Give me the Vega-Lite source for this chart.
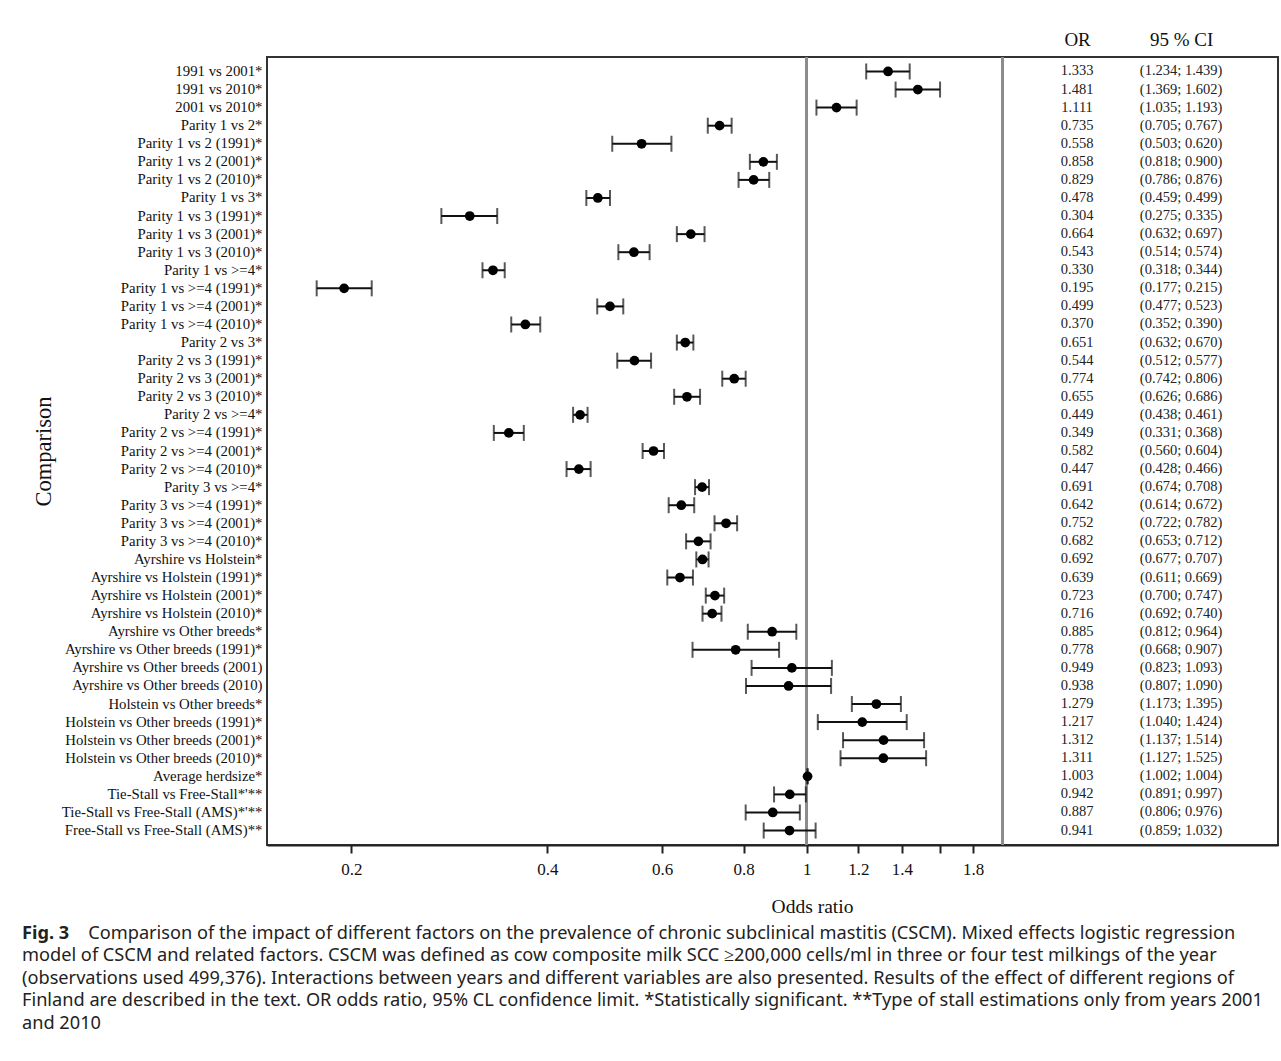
{
  "$schema": "https://vega.github.io/schema/vega-lite/v6.json",
  "width": 1011,
  "height": 788,
  "autosize": {"type": "none"},
  "padding": {"left": 267, "top": 57, "right": 3, "bottom": 216},
  "background": "white",
  "config": {
    "view": {"stroke": "#333333", "strokeWidth": 2},
    "font": "Liberation Serif"
  },
  "title": {
    "text": "Fig. 3",
    "subtitle": [
      "\u200b\u00a0\u00a0\u00a0\u00a0\u00a0\u00a0\u00a0\u00a0\u00a0\u00a0\u00a0\u00a0\u00a0\u00a0Comparison of the impact of different factors on the prevalence of chronic subclinical mastitis (CSCM). Mixed effects logistic regression",
      "model of CSCM and related factors. CSCM was defined as cow composite milk SCC ≥200,000 cells/ml in three or four test milkings of the year",
      "(observations used 499,376). Interactions between years and different variables are also presented. Results of the effect of different regions of",
      "Finland are described in the text. OR odds ratio, 95% CL confidence limit. *Statistically significant. **Type of stall estimations only from years 2001",
      "and 2010"
    ],
    "orient": "bottom",
    "anchor": "start",
    "frame": "bounds",
    "font": "Noto Sans",
    "fontSize": 18.2,
    "fontWeight": "bold",
    "color": "#222222",
    "subtitleFont": "Noto Sans",
    "subtitleFontSize": 18.2,
    "subtitleColor": "#222222",
    "subtitleLineHeight": 22.5,
    "subtitlePadding": -18,
    "offset": 9,
    "dx": -10
  },
  "data": {
    "values": [
      {"comparison": "1991 vs 2001*", "or": 1.333, "lo": 1.234, "hi": 1.439, "ci": "(1.234; 1.439)"},
      {"comparison": "1991 vs 2010*", "or": 1.481, "lo": 1.369, "hi": 1.602, "ci": "(1.369; 1.602)"},
      {"comparison": "2001 vs 2010*", "or": 1.111, "lo": 1.035, "hi": 1.193, "ci": "(1.035; 1.193)"},
      {"comparison": "Parity 1 vs 2*", "or": 0.735, "lo": 0.705, "hi": 0.767, "ci": "(0.705; 0.767)"},
      {"comparison": "Parity 1 vs 2 (1991)*", "or": 0.558, "lo": 0.503, "hi": 0.620, "ci": "(0.503; 0.620)"},
      {"comparison": "Parity 1 vs 2 (2001)*", "or": 0.858, "lo": 0.818, "hi": 0.900, "ci": "(0.818; 0.900)"},
      {"comparison": "Parity 1 vs 2 (2010)*", "or": 0.829, "lo": 0.786, "hi": 0.876, "ci": "(0.786; 0.876)"},
      {"comparison": "Parity 1 vs 3*", "or": 0.478, "lo": 0.459, "hi": 0.499, "ci": "(0.459; 0.499)"},
      {"comparison": "Parity 1 vs 3 (1991)*", "or": 0.304, "lo": 0.275, "hi": 0.335, "ci": "(0.275; 0.335)"},
      {"comparison": "Parity 1 vs 3 (2001)*", "or": 0.664, "lo": 0.632, "hi": 0.697, "ci": "(0.632; 0.697)"},
      {"comparison": "Parity 1 vs 3 (2010)*", "or": 0.543, "lo": 0.514, "hi": 0.574, "ci": "(0.514; 0.574)"},
      {"comparison": "Parity 1 vs >=4*", "or": 0.330, "lo": 0.318, "hi": 0.344, "ci": "(0.318; 0.344)"},
      {"comparison": "Parity 1 vs >=4 (1991)*", "or": 0.195, "lo": 0.177, "hi": 0.215, "ci": "(0.177; 0.215)"},
      {"comparison": "Parity 1 vs >=4 (2001)*", "or": 0.499, "lo": 0.477, "hi": 0.523, "ci": "(0.477; 0.523)"},
      {"comparison": "Parity 1 vs >=4 (2010)*", "or": 0.370, "lo": 0.352, "hi": 0.390, "ci": "(0.352; 0.390)"},
      {"comparison": "Parity 2 vs 3*", "or": 0.651, "lo": 0.632, "hi": 0.670, "ci": "(0.632; 0.670)"},
      {"comparison": "Parity 2 vs 3 (1991)*", "or": 0.544, "lo": 0.512, "hi": 0.577, "ci": "(0.512; 0.577)"},
      {"comparison": "Parity 2 vs 3 (2001)*", "or": 0.774, "lo": 0.742, "hi": 0.806, "ci": "(0.742; 0.806)"},
      {"comparison": "Parity 2 vs 3 (2010)*", "or": 0.655, "lo": 0.626, "hi": 0.686, "ci": "(0.626; 0.686)"},
      {"comparison": "Parity 2 vs >=4*", "or": 0.449, "lo": 0.438, "hi": 0.461, "ci": "(0.438; 0.461)"},
      {"comparison": "Parity 2 vs >=4 (1991)*", "or": 0.349, "lo": 0.331, "hi": 0.368, "ci": "(0.331; 0.368)"},
      {"comparison": "Parity 2 vs >=4 (2001)*", "or": 0.582, "lo": 0.560, "hi": 0.604, "ci": "(0.560; 0.604)"},
      {"comparison": "Parity 2 vs >=4 (2010)*", "or": 0.447, "lo": 0.428, "hi": 0.466, "ci": "(0.428; 0.466)"},
      {"comparison": "Parity 3 vs >=4*", "or": 0.691, "lo": 0.674, "hi": 0.708, "ci": "(0.674; 0.708)"},
      {"comparison": "Parity 3 vs >=4 (1991)*", "or": 0.642, "lo": 0.614, "hi": 0.672, "ci": "(0.614; 0.672)"},
      {"comparison": "Parity 3 vs >=4 (2001)*", "or": 0.752, "lo": 0.722, "hi": 0.782, "ci": "(0.722; 0.782)"},
      {"comparison": "Parity 3 vs >=4 (2010)*", "or": 0.682, "lo": 0.653, "hi": 0.712, "ci": "(0.653; 0.712)"},
      {"comparison": "Ayrshire vs Holstein*", "or": 0.692, "lo": 0.677, "hi": 0.707, "ci": "(0.677; 0.707)"},
      {"comparison": "Ayrshire vs Holstein (1991)*", "or": 0.639, "lo": 0.611, "hi": 0.669, "ci": "(0.611; 0.669)"},
      {"comparison": "Ayrshire vs Holstein (2001)*", "or": 0.723, "lo": 0.700, "hi": 0.747, "ci": "(0.700; 0.747)"},
      {"comparison": "Ayrshire vs Holstein (2010)*", "or": 0.716, "lo": 0.692, "hi": 0.740, "ci": "(0.692; 0.740)"},
      {"comparison": "Ayrshire vs Other breeds*", "or": 0.885, "lo": 0.812, "hi": 0.964, "ci": "(0.812; 0.964)"},
      {"comparison": "Ayrshire vs Other breeds (1991)*", "or": 0.778, "lo": 0.668, "hi": 0.907, "ci": "(0.668; 0.907)"},
      {"comparison": "Ayrshire vs Other breeds (2001)", "or": 0.949, "lo": 0.823, "hi": 1.093, "ci": "(0.823; 1.093)"},
      {"comparison": "Ayrshire vs Other breeds (2010)", "or": 0.938, "lo": 0.807, "hi": 1.090, "ci": "(0.807; 1.090)"},
      {"comparison": "Holstein vs Other breeds*", "or": 1.279, "lo": 1.173, "hi": 1.395, "ci": "(1.173; 1.395)"},
      {"comparison": "Holstein vs Other breeds (1991)*", "or": 1.217, "lo": 1.040, "hi": 1.424, "ci": "(1.040; 1.424)"},
      {"comparison": "Holstein vs Other breeds (2001)*", "or": 1.312, "lo": 1.137, "hi": 1.514, "ci": "(1.137; 1.514)"},
      {"comparison": "Holstein vs Other breeds (2010)*", "or": 1.311, "lo": 1.127, "hi": 1.525, "ci": "(1.127; 1.525)"},
      {"comparison": "Average herdsize*", "or": 1.003, "lo": 1.002, "hi": 1.004, "ci": "(1.002; 1.004)"},
      {"comparison": "Tie-Stall vs Free-Stall*'**", "or": 0.942, "lo": 0.891, "hi": 0.997, "ci": "(0.891; 0.997)"},
      {"comparison": "Tie-Stall vs Free-Stall (AMS)*'**", "or": 0.887, "lo": 0.806, "hi": 0.976, "ci": "(0.806; 0.976)"},
      {"comparison": "Free-Stall vs Free-Stall (AMS)**", "or": 0.941, "lo": 0.859, "hi": 1.032, "ci": "(0.859; 1.032)"}
    ]
  },
  "encoding": {
    "y": {
      "field": "comparison",
      "type": "nominal",
      "sort": null,
      "scale": {"type": "point", "padding": 0.8},
      "axis": {
        "title": "Comparison",
        "titleFont": "Liberation Serif",
        "titleFontSize": 22.5,
        "titleFontWeight": "normal",
        "titleColor": "#111111",
        "titlePadding": 12,
        "labelFont": "Liberation Serif",
        "labelFontSize": 14.8,
        "labelColor": "#111111",
        "labelLimit": 400,
        "labelPadding": 5,
        "ticks": false,
        "domain": false,
        "grid": false
      }
    }
  },
  "layer": [
    {
      "mark": {"type": "rule", "color": "#8c8c8c", "strokeWidth": 2},
      "encoding": {
        "x": {"datum": 1, "type": "quantitative", "scale": {"type": "log", "domain": [0.1485, 5.288], "nice": false}, "axis": null},
        "y": null
      }
    },
    {
      "mark": {"type": "rule", "color": "#8c8c8c", "strokeWidth": 2},
      "encoding": {
        "x": {"datum": 2, "type": "quantitative", "axis": null},
        "y": null
      }
    },
    {
      "mark": {"type": "rule", "color": "#111111", "strokeWidth": 2},
      "encoding": {
        "x": {
          "field": "lo",
          "type": "quantitative",
          "scale": {"type": "log", "domain": [0.1485, 5.288], "nice": false},
          "axis": {
            "title": "Odds ratio",
            "orient": "bottom",
            "values": [0.2, 0.4, 0.6, 0.8, 1, 1.2, 1.4, 1.6, 1.8],
            "labelExpr": "datum.value == 1.6 ? '' : format(datum.value, '~g')",
            "titleFont": "Liberation Serif",
            "titleFontSize": 19.5,
            "titleFontWeight": "normal",
            "titleColor": "#111111",
            "titleX": 545,
            "titlePadding": 20,
            "labelFont": "Liberation Serif",
            "labelFontSize": 17,
            "labelColor": "#111111",
            "labelPadding": 8,
            "tickSize": 8,
            "tickWidth": 2,
            "tickColor": "#222222",
            "domainColor": "#222222",
            "domainWidth": 2,
            "grid": false
          }
        },
        "x2": {"field": "hi"}
      }
    },
    {
      "mark": {"type": "tick", "color": "#111111", "thickness": 2, "size": 16},
      "encoding": {
        "x": {"field": "lo", "type": "quantitative", "axis": null}
      }
    },
    {
      "mark": {"type": "tick", "color": "#111111", "thickness": 2, "size": 16},
      "encoding": {
        "x": {"field": "hi", "type": "quantitative", "axis": null}
      }
    },
    {
      "mark": {"type": "circle", "color": "#000000", "size": 95, "opacity": 1},
      "encoding": {
        "x": {
          "field": "or",
          "type": "quantitative",
          "axis": {
            "orient": "top",
            "title": null,
            "values": [2.6, 3.755],
            "labelExpr": "datum.value < 3 ? 'OR' : '95 % CI'",
            "labelFont": "Liberation Serif",
            "labelFontSize": 19,
            "labelColor": "#111111",
            "labelPadding": 8,
            "ticks": false,
            "domain": false,
            "grid": false
          }
        }
      }
    },
    {
      "mark": {"type": "text", "font": "Liberation Serif", "fontSize": 14.5, "color": "#222222", "align": "center", "baseline": "middle"},
      "encoding": {
        "x": {"datum": 2.6, "type": "quantitative", "axis": null},
        "text": {"field": "or", "type": "quantitative", "format": ".3f"}
      }
    },
    {
      "mark": {"type": "text", "font": "Liberation Serif", "fontSize": 14.5, "color": "#222222", "align": "center", "baseline": "middle"},
      "encoding": {
        "x": {"datum": 3.755, "type": "quantitative", "axis": null},
        "text": {"field": "ci", "type": "nominal"}
      }
    }
  ],
  "resolve": {"axis": {"x": "independent"}}
}
